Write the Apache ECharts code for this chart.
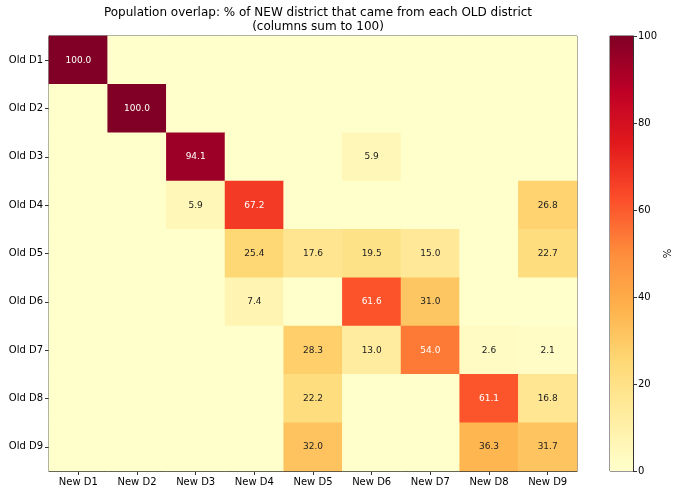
<!DOCTYPE html>
<html><head><meta charset="utf-8">
<script src="https://cdn.jsdelivr.net/npm/echarts@6/dist/echarts.min.js"></script>
<style>html,body{margin:0;padding:0;background:#fff}#c{width:680px;height:497px}</style>
</head><body><div id="c"></div>
<script>
const newDistricts = ['New D1','New D2','New D3','New D4','New D5','New D6','New D7','New D8','New D9'];
const oldDistricts = ['Old D1','Old D2','Old D3','Old D4','Old D5','Old D6','Old D7','Old D8','Old D9'];
const rowD1 = [100,0,0,0,0,0,0,0,0];
const rowD2 = [0,100,0,0,0,0,0,0,0];
const rowD3 = [0,0,94.1,0,0,5.9,0,0,0];
const rowD4 = [0,0,5.9,67.2,0,0,0,0,26.8];
const rowD5 = [0,0,0,25.4,17.6,19.5,15.0,0,22.7];
const rowD6 = [0,0,0,7.4,0,61.6,31.0,0,0];
const rowD7 = [0,0,0,0,28.3,13.0,54.0,2.6,2.1];
const rowD8 = [0,0,0,0,22.2,0,0,61.1,16.8];
const rowD9 = [0,0,0,0,32.0,0,0,36.3,31.7];
const colorbarTicks = [0,20,40,60,80,100];
const rows = [rowD1,rowD2,rowD3,rowD4,rowD5,rowD6,rowD7,rowD8,rowD9];
const ylorrd = ['#ffffcc','#ffeda0','#fed976','#feb24c','#fd8d3c','#fc4e2a','#e31a1c','#bd0026','#800026'];

const data = [];
rows.forEach((r, yi) => r.forEach((v, xi) => {
  data.push({value:[xi, yi, v], label:{color: v > 50 ? '#ffffff' : '#222222'}});
}));

const chart = echarts.init(document.getElementById('c'));
const font = 'DejaVu Sans';
const lineBlack = {show:true, lineStyle:{color:'#333', width:1}};
chart.setOption({
  animation:false,
  textStyle:{fontFamily:font},
  title:{
    text:'Population overlap: % of NEW district that came from each OLD district\n(columns sum to 100)',
    left:313, top:1, textAlign:'center',
    textStyle:{fontFamily:font, fontSize:12, fontWeight:'normal', color:'#000', lineHeight:14}
  },
  grid:[
    {left:49, right:103, top:36, bottom:26, show:true, borderColor:'#333', borderWidth:1, backgroundColor:'transparent'},
    {left:610, right:47, top:36, bottom:26, show:true, borderColor:'#333', borderWidth:1}
  ],
  visualMap:{show:false, min:0, max:100, seriesIndex:0, inRange:{color:ylorrd}},
  xAxis:[
    {type:'category', data:newDistricts, gridIndex:0, splitArea:{show:false},
     axisLine:lineBlack, axisTick:{show:true, alignWithLabel:true, length:4, lineStyle:{color:'#333'}, interval:0},
     axisLabel:{color:'#000', fontSize:10, fontFamily:font, margin:6, interval:0}},
    {type:'category', data:['%'], gridIndex:1, show:false}
  ],
  yAxis:[
    {type:'category', data:oldDistricts, gridIndex:0, inverse:true,
     axisLine:lineBlack, axisTick:{show:true, alignWithLabel:true, length:4, lineStyle:{color:'#333'}, interval:0},
     axisLabel:{color:'#000', fontSize:10, fontFamily:font, margin:6, interval:0}},
    {type:'value', gridIndex:1, min:colorbarTicks[0], max:colorbarTicks[colorbarTicks.length-1], interval:20, position:'right',
     splitLine:{show:false}, axisLine:lineBlack,
     axisTick:{show:true, length:4, lineStyle:{color:'#333'}},
     axisLabel:{color:'#000', fontSize:10, fontFamily:font, margin:5},
     name:'%', nameLocation:'middle', nameGap:30, nameRotate:90,
     nameTextStyle:{color:'#000', fontSize:10, fontFamily:font}}
  ],
  series:[
    {type:'heatmap', xAxisIndex:0, yAxisIndex:0, data:data,
     label:{show:true, fontSize:9, fontFamily:font,
       formatter:p => p.value[2] > 0 ? p.value[2].toFixed(1) : ''},
     itemStyle:{borderWidth:0}, emphasis:{disabled:true}},
    {type:'bar', xAxisIndex:1, yAxisIndex:1, barWidth:'100%', data:[colorbarTicks[colorbarTicks.length-1]],
     silent:true,
     itemStyle:{color:new echarts.graphic.LinearGradient(0,1,0,0,
       ylorrd.map((c,i)=>({offset:i/(ylorrd.length-1), color:c})))}}
  ]
});
</script></body></html>
